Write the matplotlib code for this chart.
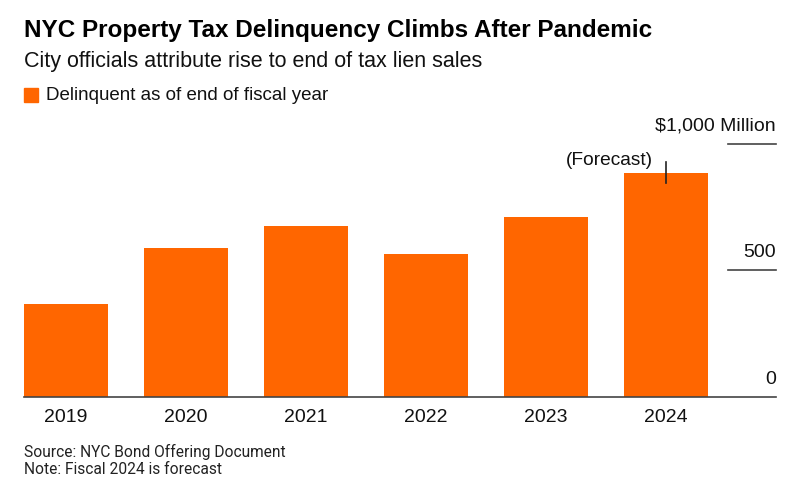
import numpy as np
import matplotlib.pyplot as plt

plt.rcParams['font.family'] = ['Liberation Sans', 'DejaVu Sans']

# donnees (millions de dollars)
years = ['2019', '2020', '2021', '2022', '2023', '2024']
delinquent = [365, 588, 675, 564, 710, 885]
yticks = [0, 500, 1000]
ytick_labels = ['0', '500', '$1,000 Million']

orange = '#ff6600'
axis_col = '#444444'

fig = plt.figure(figsize=(7.98, 4.93), dpi=100)
ax = fig.add_axes([24/798, 96.3/493, 752/798, 253.2/493])

x = np.arange(len(years))
ax.bar(x, delinquent, width=0.7, color=orange, zorder=2)
ax.set_xlim(-0.35, 5.917)
ax.set_ylim(0, 1000)

for s in ['top', 'right', 'left']:
    ax.spines[s].set_visible(False)
ax.spines['bottom'].set_color(axis_col)
ax.spines['bottom'].set_linewidth(1.2)
ax.set_yticks([])
ax.set_xticks(x)
ax.set_xticklabels(years, fontsize=14, color='#111111')
ax.tick_params(axis='x', length=0, pad=8.5)

# graduations a droite
tr = ax.get_yaxis_transform()
for v, lab in zip(yticks, ytick_labels):
    if v > 0:
        ax.plot([0.936, 1.0], [v, v], color=axis_col, lw=1.2, transform=tr, clip_on=False)
    ax.annotate(lab, xy=(1.0, v), xycoords=tr, xytext=(0, 6.5), textcoords='offset points',
                ha='right', va='bottom', fontsize=14, color='#111111')

# annotation prevision
last = delinquent[-1]
ax.plot([x[-1], x[-1]], [last + 43, last - 40], color='#222222', lw=1.2, zorder=3)
ax.annotate('(Forecast)', xy=(x[-1], last + 46), xytext=(-9, 0), textcoords='offset points',
            ha='right', va='center', fontsize=13.8, color='#111111')

# titres
fig.text(24/798, 1 - 30/493, 'NYC Property Tax Delinquency Climbs After Pandemic',
         fontsize=17.5, fontweight='bold', va='center', color='#000000')
fig.text(24/798, 1 - 62/493, 'City officials attribute rise to end of tax lien sales',
         fontsize=15.5, va='center', color='#111111')

# legende
fig.patches.append(plt.Rectangle((24/798, 1 - 102/493), 14/798, 14/493,
                                 transform=fig.transFigure, color=orange))
fig.text(46/798, 1 - 96/493, 'Delinquent as of end of fiscal year',
         fontsize=13.5, va='center', color='#111111')

# source
fig.text(24/798, 1 - 452/493, 'Source: NYC Bond Offering Document',
         fontsize=11.2, va='center', color='#222222', family=['Roboto', 'DejaVu Sans'])
fig.text(24/798, 1 - 470/493, 'Note: Fiscal 2024 is forecast',
         fontsize=11.2, va='center', color='#222222', family=['Roboto', 'DejaVu Sans'])

fig.savefig('out.png', dpi=100)
